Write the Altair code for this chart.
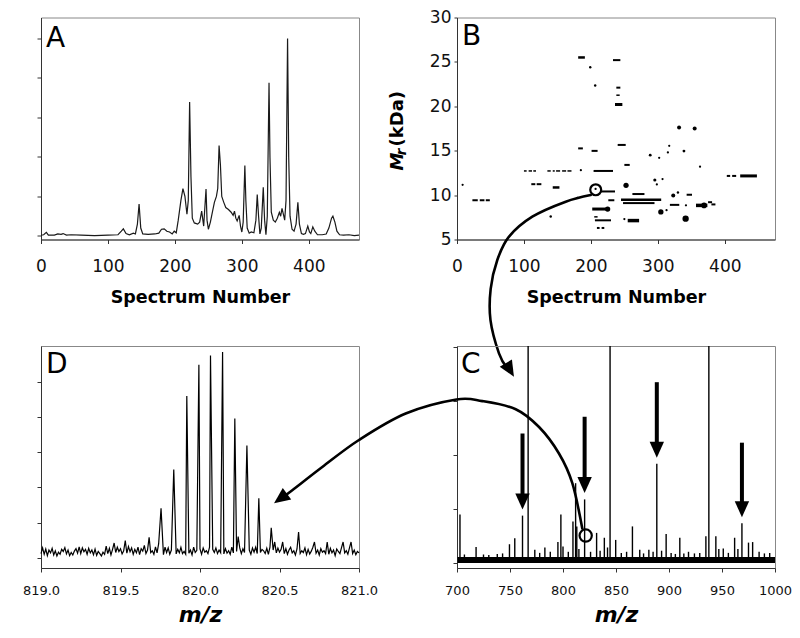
import altair as alt
import pandas as pd

FONT = "DejaVu Sans"
W = 318
H = 222

# ---------------- Panel A : chromatogram ----------------
a_spec = [0, 4, 8, 11, 20, 25, 30, 33, 38, 45,
          60, 80, 100, 115, 120, 123, 127, 132, 138, 141,
          144, 146.5, 149, 152, 160, 170, 176, 180, 184, 188,
          192, 196, 199, 202, 205, 209, 212, 215, 218, 220,
          222, 224, 226, 229, 234, 237, 240, 243, 246.5, 248,
          250, 253, 256, 259, 262, 264, 266, 268, 270, 273,
          276, 280, 284, 287, 289, 291, 293, 296, 298, 300,
          302, 304.5, 306, 308, 311, 314, 318, 321, 323, 325,
          327, 329, 332, 334, 336, 338, 340.6, 342, 344, 347,
          350, 353, 356, 358, 360, 362, 364, 366, 368.3, 370,
          372, 375, 378, 381, 383.7, 386, 389, 392, 395, 398.5,
          401, 403, 406, 409, 413, 420, 426, 430, 434, 436,
          439, 442, 446, 452, 460, 468, 475]
a_int = [0.02, 0.03, 0.09, 0.02, 0.02, 0.05, 0.04, 0.06, 0.02, 0.03,
         0.02, 0.01, 0.02, 0.03, 0.12, 0.18, 0.06, 0.03, 0.07, 0.05,
         0.30, 0.81, 0.20, 0.05, 0.04, 0.05, 0.07, 0.17, 0.18, 0.12,
         0.10, 0.05, 0.12, 0.08, 0.40, 0.90, 1.20, 1.00, 0.55, 0.90,
         3.39, 1.50, 0.45, 0.33, 0.30, 0.35, 0.63, 0.25, 1.19, 0.40,
         0.17, 0.35, 0.60, 0.85, 1.00, 1.20, 2.29, 1.80, 1.00, 0.85,
         0.72, 0.67, 0.60, 0.52, 0.63, 0.45, 0.38, 0.52, 0.25, 0.10,
         0.35, 1.78, 0.90, 0.20, 0.07, 0.10, 0.08, 0.40, 1.05, 0.50,
         0.05, 0.20, 1.23, 0.40, 0.03, 0.50, 3.88, 2.00, 0.60, 0.40,
         0.35, 0.45, 0.60, 0.50, 0.70, 0.55, 0.40, 0.90, 5.00, 2.00,
         0.50, 0.17, 0.12, 0.30, 0.85, 0.30, 0.06, 0.04, 0.06, 0.25,
         0.10, 0.06, 0.23, 0.12, 0.03, 0.03, 0.05, 0.20, 0.45, 0.50,
         0.35, 0.12, 0.03, 0.02, 0.03, 0.01, 0.02]

# ---------------- Panel B : 2-D mass map ----------------
b_s1 = [23, 34, 43, 100, 107, 114, 111, 119, 135, 143,
        148, 157, 165, 143, 181, 181, 201, 204, 214, 202,
        205, 206, 209, 216, 226, 233, 238, 238, 236, 240,
        250, 245, 248, 262, 255, 318, 343, 357, 375, 380,
        403, 411, 423]
b_s2 = [31, 41, 49, 104, 112, 118, 117, 126, 140, 146,
        154, 163, 171, 153, 191, 188, 210, 233, 236, 224,
        210, 230, 213, 220, 235, 244, 244, 243, 247, 252,
        258, 305, 295, 280, 272, 332, 351, 374, 381, 386,
        408, 417, 448]
b_mass = [9.42, 9.42, 9.42, 12.72, 12.72, 12.72, 11.23, 11.23, 12.72, 12.72,
          12.72, 12.72, 12.72, 10.86, 25.5, 15.26, 14.98, 12.72, 10.41, 8.43,
          7.55, 7.16, 6.3, 6.3, 9.42, 25.2, 22.1, 21.25, 20.2, 15.65,
          13.4, 9.48, 9.1, 10.12, 7.13, 8.9, 10.04, 8.84, 9.2, 8.95,
          12.16, 12.16, 12.16]
b_width = [2, 2, 2, 1.5, 1.5, 1.5, 2, 2, 1.5, 1.5,
           1.5, 1.5, 1.5, 2.5, 2.5, 2, 2, 2, 2, 3,
           1.5, 2, 2, 2, 2, 2, 2, 1.5, 3, 2,
           2, 2.5, 2, 2, 3.5, 2, 2, 3.5, 2, 2,
           2, 2, 3]
b_dot_s = [8.4, 140, 180, 185, 199, 206.4, 225, 252.5, 250, 288.6,
           302, 295.5, 298.5, 307, 304.5, 313, 317, 315, 323, 330,
           331.7, 339, 342, 341.5, 355, 363, 369, 207]
b_dot_m = [11.16, 7.6, 9.7, 12.8, 24.4, 22.35, 8.43, 11.1, 7.3, 14.5,
           14.2, 11.7, 11.2, 11.8, 8.1, 8.3, 15.55, 14.8, 9.96, 10.3,
           17.6, 14.96, 8.85, 7.35, 17.5, 13.2, 8.84, 10.7]
b_dot_area = [5, 6, 5, 5, 6, 6, 28, 28, 5, 8,
              5, 10, 5, 5, 28, 5, 5, 5, 16, 6,
              16, 8, 5, 40, 16, 5, 32, 5]
b_circle = [207.2, 10.6]

# ---------------- Panel C : mass spectrum (stick) ----------------
c_mz = [702.8, 707, 718, 725, 730, 738, 743, 749.5, 754.5, 761.8,
        767.1, 773.4, 778, 782.9, 788, 795.2, 798, 800, 805, 809.4,
        811.9, 813, 815, 820.4, 826, 831.7, 835, 839, 842, 844.4,
        849.7, 855, 860, 865.5, 872.4, 876, 881, 885, 888.5, 893,
        897.3, 902, 906, 910.2, 914, 918.4, 924, 929, 934.8, 937.6,
        944.2, 947, 951.2, 956, 961.9, 965, 968.8, 975, 978.9, 985,
        990, 995]
c_int = [0.89, 0.15, 0.29, 0.15, 0.14, 0.16, 0.17, 0.34, 0.45, 0.87,
         5.0, 0.24, 0.18, 0.28, 0.20, 0.38, 0.89, 0.30, 0.20, 0.76,
         1.47, 0.67, 0.25, 1.17, 0.20, 0.55, 0.22, 0.46, 0.28, 5.0,
         0.42, 0.18, 0.20, 0.67, 0.24, 0.17, 0.24, 0.20, 1.83, 0.22,
         0.53, 0.18, 0.16, 0.46, 0.17, 0.20, 0.17, 0.18, 0.49, 5.0,
         0.49, 0.25, 0.26, 0.18, 0.46, 0.25, 0.73, 0.37, 0.38, 0.20,
         0.17, 0.18]
c_noise_level = 0.05
c_arrow_mz = [761.8, 820.4, 888.5, 968.8]
c_arrow_top = [2.39, 2.70, 3.34, 2.22]
c_arrow_tip = [0.985, 1.29, 1.94, 0.84]
c_circle = [821.4, 0.5]

# ---------------- Panel D : isotopic cluster ----------------
d_start = 819.0
d_step = 0.01
d_noise = [
    0.12, 0.28, 0.10, 0.25, 0.06, 0.22, 0.14, 0.27, 0.08, 0.20,
    0.05, 0.16, 0.10, 0.24, 0.18, 0.29, 0.11, 0.22, 0.06, 0.15,
    0.08, 0.19, 0.26, 0.13, 0.31, 0.12, 0.28, 0.17, 0.24, 0.10,
    0.27, 0.14, 0.22, 0.09, 0.25, 0.07, 0.18, 0.12, 0.05, 0.16,
    0.10, 0.33, 0.12, 0.27, 0.08, 0.24, 0.42, 0.15, 0.30, 0.18,
    0.26, 0.11, 0.20, 0.49, 0.13, 0.32, 0.17, 0.28, 0.10, 0.24,
    0.14, 0.30, 0.09, 0.26, 0.19, 0.35, 0.12, 0.22, 0.58, 0.15,
    0.20, 0.10, 0.31, 0.14, 0.40, 0.12, 0.25, 0.09, 0.30, 0.15,
    0.28, 0.10, 0.22, 0.12, 0.35, 0.11, 0.24, 0.14, 0.30, 0.12,
    0.18, 0.10, 0.26, 0.13, 0.22, 0.08, 0.30, 0.15, 0.21, 0.11,
    0.25, 0.10, 0.28, 0.16, 0.20, 0.12, 0.30, 0.10, 0.24, 0.15,
    0.28, 0.12, 0.22, 0.14, 0.34, 0.11, 0.26, 0.13, 0.20, 0.10,
    0.30, 0.14, 0.24, 0.18, 0.60, 0.28, 0.12, 0.26, 0.15, 0.35,
    0.14, 0.22, 0.10, 0.28, 0.16, 0.30, 0.12, 0.38, 0.15, 0.24,
    0.20, 0.12, 0.27, 0.10, 0.30, 0.15, 0.22, 0.45, 0.14, 0.28,
    0.16, 0.24, 0.45, 0.12, 0.26, 0.10, 0.22, 0.30, 0.14, 0.20,
    0.08, 0.25, 0.73, 0.12, 0.20, 0.15, 0.28, 0.09, 0.24, 0.11,
    0.19, 0.30, 0.45, 0.13, 0.22, 0.08, 0.26, 0.16, 0.20, 0.12,
    0.45, 0.10, 0.27, 0.14, 0.22, 0.06, 0.25, 0.18, 0.12, 0.29,
    0.45, 0.14, 0.20, 0.10, 0.28, 0.45, 0.12, 0.22, 0.09, 0.18,
    0.14]
d_pk_mz = [819.755, 819.835, 819.917, 819.993, 820.066,
           820.142, 820.219, 820.295, 820.370, 820.448]
d_pk_int = [1.41, 2.51, 4.60, 5.49, 5.75, 5.85, 3.96, 3.19, 1.69, 0.85]

# ---------------- annotation arrows (host-panel data units) ----------------
bc_x = [199.7, 162.4, 112.5, 77.7, 60.2, 50.3, 50.0, 62.7, 74.7]
bc_y = [10.01, 9.26, 7.57, 5.32, 2.69, -0.57, -4.07, -7.82, -9.47]
bc_tip = [85.1, -10.45, 149]
cd_x = [818.2, 808.8, 796.2, 777.4, 755.4, 723.9, 699.5, 651.6, 607.5, 572.9, 544.6, 534.9]
cd_y = [0.63, 1.47, 2.02, 2.51, 2.84, 2.99, 3.02, 2.76, 2.27, 1.77, 1.34, 1.20]
cd_tip = [527.4, 1.10, 234]

ARROW = "M0,0L0.9,2L-0.9,2Z"


def ax(values, size, pad, title=None, tsize=17, tpad=10, tstyle="normal",
       fmt=None, labels=True, tick=4):
    kw = dict(values=values, labelFontSize=size, labelPadding=pad, labels=labels,
              tickSize=tick, labelFlush=False, labelOverlap=False)
    if fmt:
        kw["format"] = fmt
    if title:
        kw.update(title=title, titleFontSize=tsize, titlePadding=tpad,
                  titleFontWeight="bold", titleFontStyle=tstyle)
    else:
        kw["title"] = None
    return alt.Axis(**kw)


def sc(domain):
    return alt.Scale(domain=domain, nice=False, zero=False)


def label(txt, x, y, size, weight="normal", style="normal", angle=0, align="left",
          baseline="alphabetic"):
    return alt.Chart(pd.DataFrame({"t": [txt]})).mark_text(
        align=align, baseline=baseline, font=FONT, fontSize=size, fontWeight=weight,
        fontStyle=style, angle=angle, color="black"
    ).encode(text="t:N", x=alt.value(x), y=alt.value(y))


# ---- A ----
XA = alt.X("x:Q", scale=sc([0, 475]),
           axis=ax([0, 100, 200, 300, 400], 17, 15, "Spectrum Number", 17.5, 14))
YA = alt.Y("y:Q", scale=sc([-0.09, 5.53]), axis=ax([0, 1, 2, 3, 4, 5], 12, 2, labels=False))
df_a = pd.DataFrame({"x": a_spec, "y": a_int})
panel_a = alt.layer(
    alt.Chart(df_a).mark_line(color="#1a1a1a", strokeWidth=1.2).encode(x=XA, y=YA),
    label("A", 5, 29, 28),
).properties(width=W, height=H)

# ---- B ----
XB = alt.X("x:Q", scale=sc([0, 475]),
           axis=ax([0, 100, 200, 300, 400], 17, 15, "Spectrum Number", 17.5, 14))
YB = alt.Y("y:Q", scale=sc([5, 30]),
           axis=ax([5, 10, 15, 20, 25, 30], 17, 3, tick=3))
df_bseg = pd.DataFrame({"x": b_s1, "x2": b_s2, "y": b_mass, "w": b_width})
df_bdot = pd.DataFrame({"x": b_dot_s, "y": b_dot_m, "a": b_dot_area})
df_bcirc = pd.DataFrame({"x": [b_circle[0]], "y": [b_circle[1]]})
df_bc = pd.DataFrame({"x": bc_x, "y": bc_y, "i": list(range(len(bc_x)))})
df_bct = pd.DataFrame({"x": [bc_tip[0]], "y": [bc_tip[1]], "a": [bc_tip[2]]})
panel_b = alt.layer(
    alt.Chart(df_bseg).mark_rule(color="black", strokeCap="butt").encode(
        x=XB, x2="x2:Q", y=YB, strokeWidth=alt.StrokeWidth("w:Q", scale=None)),
    alt.Chart(df_bdot).mark_circle(color="black", opacity=1).encode(
        x=XB, y=YB, size=alt.Size("a:Q", scale=None)),
    alt.Chart(df_bcirc).mark_point(shape="circle", filled=False, color="black",
                                   size=120, strokeWidth=2.2, opacity=1).encode(x=XB, y=YB),
    alt.Chart(df_bc).mark_line(color="black", strokeWidth=2.6, interpolate="cardinal",
                               strokeCap="round").encode(x=XB, y=YB, order="i:Q"),
    alt.Chart(df_bct).mark_point(shape=ARROW, filled=True, color="black", size=250,
                                 opacity=1, strokeWidth=0).encode(
        x=XB, y=YB, angle=alt.Angle("a:Q", scale=None)),
    label("B", 5, 27.5, 28),
    label("M", -59, 153, 18, "bold", "italic", 270, "left", "middle"),
    label("r", -55, 138, 14, "bold", "italic", 270, "left", "middle"),
    label("(kDa)", -59, 129, 18, "bold", "normal", 270, "left", "middle"),
).properties(width=W, height=H)

# ---- C ----
XC = alt.X("x:Q", scale=sc([700, 1000]),
           axis=ax([700, 750, 800, 850, 900, 950, 1000], 13, 12, "m/z", 22, 7, "italic",
                   fmt="d"))
YC = alt.Y("y:Q", scale=sc([-0.10, 4.01]), axis=ax([0, 1, 2, 3, 4], 12, 2, labels=False))
df_cpk = pd.DataFrame({"x": c_mz, "y": [c_noise_level] * len(c_mz), "y2": c_int})
df_cbase = pd.DataFrame({"x": [700.5], "x2": [1000], "y": [c_noise_level]})
df_carr = pd.DataFrame({"x": c_arrow_mz, "y": c_arrow_top,
                        "y2": [t + 0.22 for t in c_arrow_tip]})
df_ctip = pd.DataFrame({"x": c_arrow_mz, "y": c_arrow_tip})
df_ccirc = pd.DataFrame({"x": [c_circle[0]], "y": [c_circle[1]]})
df_cd = pd.DataFrame({"x": cd_x, "y": cd_y, "i": list(range(len(cd_x)))})
df_cdt = pd.DataFrame({"x": [cd_tip[0]], "y": [cd_tip[1]], "a": [cd_tip[2]]})
panel_c = alt.layer(
    alt.Chart(df_cbase).mark_rule(color="black", strokeWidth=6, strokeCap="butt").encode(
        x=XC, x2="x2:Q", y=YC),
    alt.Chart(df_cpk).mark_rule(color="black", strokeWidth=1.4, clip=True).encode(
        x=XC, y=YC, y2="y2:Q"),
    alt.Chart(df_carr).mark_rule(color="black", strokeWidth=4, strokeCap="butt").encode(
        x=XC, y=YC, y2="y2:Q"),
    alt.Chart(df_ctip).mark_point(shape=ARROW, filled=True, color="black", size=256,
                                  angle=180, opacity=1, strokeWidth=0).encode(x=XC, y=YC),
    alt.Chart(df_ccirc).mark_point(shape="circle", filled=False, color="black",
                                   size=150, strokeWidth=2.2, opacity=1).encode(x=XC, y=YC),
    alt.Chart(df_cd).mark_line(color="black", strokeWidth=2.6, interpolate="cardinal",
                               strokeCap="round").encode(x=XC, y=YC, order="i:Q"),
    alt.Chart(df_cdt).mark_point(shape=ARROW, filled=True, color="black", size=256,
                                 opacity=1, strokeWidth=0).encode(
        x=XC, y=YC, angle=alt.Angle("a:Q", scale=None)),
    label("C", 4, 27, 28),
).properties(width=W, height=H)

# ---- D ----
d_grid = [round(d_start + i * d_step, 3) for i in range(len(d_noise))]
d_rows = [(x, y) for x, y in zip(d_grid, d_noise)
          if min(abs(x - p) for p in d_pk_mz) > 0.006]
d_rows += list(zip(d_pk_mz, d_pk_int))
d_rows.sort()
df_d = pd.DataFrame(d_rows, columns=["x", "y"])
XD = alt.X("x:Q", scale=sc([819, 821]),
           axis=ax([819, 819.5, 820, 820.5, 821], 13, 12, "m/z", 22, 7, "italic", fmt=".1f"))
YD = alt.Y("y:Q", scale=sc([-0.29, 6.02]), axis=ax([0, 1, 2, 3, 4, 5], 12, 2, labels=False))
panel_d = alt.layer(
    alt.Chart(df_d).mark_line(color="black", strokeWidth=1.2).encode(x=XD, y=YD),
    label("D", 5, 27, 28),
).properties(width=W, height=H)

chart = alt.concat(
    panel_a, panel_b, panel_d, panel_c,
    columns=2, spacing={"row": 106.5, "column": 98}, bounds="flush",
).resolve_scale(x="independent", y="independent").properties(
    autosize=alt.AutoSizeParams(type="none"),
    padding={"left": 33, "top": 9.5, "right": 751, "bottom": 612.5},
    background="white",
).configure_view(stroke="#888", strokeWidth=1).configure_axis(
    domainColor="#333", tickColor="#333", labelColor="#111", titleColor="black",
    labelFont=FONT, titleFont=FONT, grid=False,
)

chart.save("out.html", embed_options={"renderer": "svg", "actions": False})
